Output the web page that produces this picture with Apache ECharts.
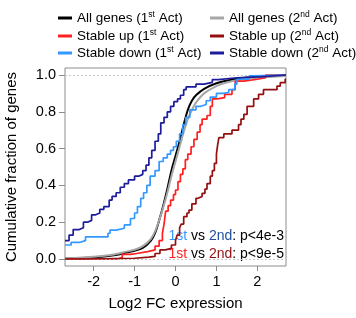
<!DOCTYPE html>
<html>
<head>
<meta charset="utf-8">
<script src="https://cdn.jsdelivr.net/npm/echarts@6/dist/echarts.min.js"></script>
<style>
  html, body { margin: 0; padding: 0; background: #fff; }
  #chart { width: 356px; height: 318px; }
</style>
</head>
<body>
<div id="chart"></div>
<script>
// data: x = log2 FC, y = cumulative fraction
var allGenes1X = [-2.7, -2.0, -1.5, -1.2, -1.0, -0.8, -0.6, -0.5, -0.4, -0.3, -0.2, -0.1, 0, 0.1, 0.2, 0.3, 0.4, 0.5, 0.7, 1.0, 1.3, 1.6, 2.0, 2.7];
var allGenes1Y = [0.002, 0.008, 0.02, 0.035, 0.045, 0.06, 0.1, 0.14, 0.21, 0.29, 0.38, 0.48, 0.56, 0.64, 0.73, 0.81, 0.86, 0.89, 0.925, 0.955, 0.972, 0.982, 0.99, 0.997];
var allGenes2X = [-2.7, -2.0, -1.5, -1.2, -1.0, -0.8, -0.6, -0.5, -0.4, -0.3, -0.2, -0.1, 0, 0.1, 0.2, 0.3, 0.4, 0.5, 0.7, 1.0, 1.3, 1.6, 2.0, 2.7];
var allGenes2Y = [0.003, 0.012, 0.025, 0.04, 0.05, 0.07, 0.11, 0.15, 0.21, 0.28, 0.36, 0.45, 0.53, 0.61, 0.69, 0.76, 0.81, 0.85, 0.9, 0.94, 0.962, 0.975, 0.985, 0.995];

var up1X = [-2.7, -1.4, -1.3, -1.1, -0.95, -0.68, -0.5, -0.4, -0.32, -0.28, -0.24, -0.18, -0.12, -0.05, 0, 0.06, 0.12, 0.18, 0.24, 0.3, 0.38, 0.45, 0.53, 0.6, 0.65, 0.77, 0.85, 0.9, 1.02, 1.2, 1.38, 1.46, 1.67, 2.0, 2.2, 2.7];
var up1Y = [0, 0.01, 0.025, 0.03, 0.04, 0.05, 0.07, 0.1, 0.14, 0.19, 0.26, 0.29, 0.32, 0.35, 0.375, 0.42, 0.46, 0.49, 0.54, 0.57, 0.61, 0.65, 0.69, 0.73, 0.76, 0.78, 0.83, 0.87, 0.877, 0.895, 0.92, 0.967, 0.977, 0.985, 1, 1];
var up2X = [-2.7, -2.3, -1.0, -0.65, -0.5, -0.38, -0.25, -0.1, 0, 0.04, 0.1, 0.14, 0.2, 0.28, 0.33, 0.4, 0.5, 0.55, 0.65, 0.72, 0.77, 0.85, 0.9, 0.95, 1.0, 1.03, 1.06, 1.18, 1.38, 1.54, 1.6, 1.67, 1.75, 1.91, 2.03, 2.15, 2.48, 2.56, 2.68, 2.7];
var up2Y = [0, 0.004, 0.01, 0.014, 0.03, 0.05, 0.058, 0.076, 0.1, 0.13, 0.17, 0.19, 0.23, 0.25, 0.266, 0.3, 0.33, 0.34, 0.357, 0.38, 0.41, 0.45, 0.48, 0.52, 0.57, 0.62, 0.66, 0.68, 0.7, 0.73, 0.76, 0.786, 0.83, 0.87, 0.895, 0.92, 0.94, 0.958, 0.977, 0.977];

var down1X = [-2.7, -2.55, -2.35, -2.2, -1.65, -1.6, -1.45, -1.25, -1.1, -1.0, -0.93, -0.85, -0.78, -0.7, -0.62, -0.5, -0.4, -0.3, -0.2, -0.12, -0.05, 0.02, 0.1, 0.18, 0.25, 0.35, 0.5, 0.62, 0.75, 0.85, 1.0, 1.15, 1.3, 1.45, 1.5, 1.8, 1.9, 2.7];
var down1Y = [0.076, 0.09, 0.1, 0.12, 0.14, 0.157, 0.167, 0.185, 0.22, 0.25, 0.285, 0.33, 0.36, 0.4, 0.45, 0.48, 0.53, 0.55, 0.57, 0.59, 0.61, 0.64, 0.68, 0.73, 0.77, 0.81, 0.83, 0.84, 0.86, 0.88, 0.9, 0.905, 0.92, 0.95, 0.977, 0.995, 1, 1];
var down2X = [-2.7, -2.6, -2.5, -2.35, -2.25, -2.15, -2.05, -1.95, -1.85, -1.75, -1.62, -1.55, -1.45, -1.35, -1.25, -1.15, -1.0, -0.9, -0.8, -0.72, -0.65, -0.58, -0.5, -0.42, -0.36, -0.28, -0.2, -0.12, -0.04, 0.05, 0.12, 0.2, 0.26, 0.5, 0.7, 0.9, 1.05, 1.5, 2.05, 2.7];
var down2Y = [0.1, 0.13, 0.16, 0.17, 0.2, 0.21, 0.24, 0.25, 0.27, 0.285, 0.32, 0.34, 0.36, 0.39, 0.41, 0.43, 0.45, 0.46, 0.48, 0.51, 0.55, 0.59, 0.64, 0.68, 0.74, 0.77, 0.8, 0.83, 0.855, 0.87, 0.89, 0.92, 0.935, 0.95, 0.96, 0.975, 0.985, 0.99, 1, 1];

var xTicks = [-2, -1, 0, 1, 2];
var yTicks = [0, 0.2, 0.4, 0.6, 0.8, 1.0];

function pairs(xs, ys) {
  return xs.map(function (x, i) { return [x, ys[i]]; });
}

var FONT = 'Liberation Sans, Arial, sans-serif';

var curves = [
  { name: 'All genes (1st Act)', label: '{n|All genes (1}{s|st}{n| Act)}', xs: allGenes1X, ys: allGenes1Y, color: '#000000', step: false, left: 58, top: 10 },
  { name: 'All genes (2nd Act)', label: '{n|All genes (2}{s|nd}{n| Act)}', xs: allGenes2X, ys: allGenes2Y, color: '#a6a6a6', step: false, left: 210, top: 10 },
  { name: 'Stable up (1st Act)', label: '{n|Stable up (1}{s|st}{n| Act)}', xs: up1X, ys: up1Y, color: '#ff2020', step: 'end', left: 58, top: 28 },
  { name: 'Stable up (2nd Act)', label: '{n|Stable up (2}{s|nd}{n| Act)}', xs: up2X, ys: up2Y, color: '#940f0f', step: 'end', left: 210, top: 28 },
  { name: 'Stable down (1st Act)', label: '{n|Stable down (1}{s|st}{n| Act)}', xs: down1X, ys: down1Y, color: '#3399ff', step: 'end', left: 58, top: 45 },
  { name: 'Stable down (2nd Act)', label: '{n|Stable down (2}{s|nd}{n| Act)}', xs: down2X, ys: down2Y, color: '#1c1c9c', step: 'end', left: 210, top: 45 }
];

var richText = {
  n: { fontSize: 13.5, color: '#000', fontFamily: FONT },
  s: { fontSize: 8.5, color: '#000', fontFamily: FONT, padding: [0, 0, 7, 0] }
};

var legends = curves.map(function (c) {
  return {
    data: [c.name],
    left: c.left,
    top: c.top,
    icon: 'rect',
    itemWidth: 14,
    itemHeight: 3,
    selectedMode: false,
    padding: 0,
    formatter: function () { return c.label; },
    textStyle: { rich: richText }
  };
});

var series = curves.map(function (c, i) {
  var s = {
    name: c.name,
    type: 'line',
    data: pairs(c.xs, c.ys),
    step: c.step,
    smooth: c.step ? false : 0.3,
    showSymbol: false,
    symbol: 'none',
    silent: true,
    z: 2 + i,
    lineStyle: { color: c.color, width: c.step ? 1.7 : 2 },
    itemStyle: { color: c.color }
  };
  if (i === 0) {
    s.markLine = {
      silent: true,
      symbol: 'none',
      label: { show: false },
      lineStyle: { color: '#c8c8c8', type: [2, 2], width: 1 },
      data: [{ yAxis: 0 }, { yAxis: 1 }]
    };
  }
  return s;
});

var chart = echarts.init(document.getElementById('chart'));
chart.setOption({
  animation: false,
  backgroundColor: '#fff',
  legend: legends,
  grid: {
    left: 65, right: 70, top: 68, bottom: 52,
    outerBoundsMode: 'none',
    containLabel: false,
    show: true, borderColor: '#8c8c8c', borderWidth: 1, backgroundColor: 'transparent'
  },
  xAxis: {
    type: 'value',
    min: -2.7, max: 2.7,
    name: 'Log2 FC expression',
    nameLocation: 'middle',
    nameGap: 30,
    nameTextStyle: { fontSize: 15, color: '#000', fontFamily: FONT },
    axisLine: { show: false, onZero: false },
    splitLine: { show: false },
    axisTick: { show: true, length: 5, customValues: xTicks, lineStyle: { color: '#8c8c8c' } },
    axisLabel: { customValues: xTicks, fontSize: 14.5, color: '#000', fontFamily: FONT, margin: 8 }
  },
  yAxis: {
    type: 'value',
    min: -0.038, max: 1.038,
    name: 'Cumulative fraction of genes',
    nameLocation: 'middle',
    nameGap: 46,
    nameTextStyle: { fontSize: 15, color: '#000', fontFamily: FONT },
    axisLine: { show: false, onZero: false },
    splitLine: { show: false },
    axisTick: { show: true, length: 6, customValues: yTicks, lineStyle: { color: '#8c8c8c' } },
    axisLabel: {
      customValues: yTicks, fontSize: 14.5, color: '#000', fontFamily: FONT, margin: 9,
      formatter: function (v) { return v.toFixed(1); }
    }
  },
  graphic: [
    {
      type: 'text', right: 72, top: 229,
      style: {
        text: '{a|1st}{k| vs }{b|2nd}{k|: p<4e-3}',
        rich: {
          a: { fill: '#3399ff', fontSize: 14, fontFamily: FONT },
          b: { fill: '#1f4f9e', fontSize: 14, fontFamily: FONT },
          k: { fill: '#000', fontSize: 14, fontFamily: FONT }
        }
      }
    },
    {
      type: 'text', right: 72, top: 247,
      style: {
        text: '{a|1st}{k| vs }{b|2nd}{k|: p<9e-5}',
        rich: {
          a: { fill: '#ff2020', fontSize: 14, fontFamily: FONT },
          b: { fill: '#940f0f', fontSize: 14, fontFamily: FONT },
          k: { fill: '#000', fontSize: 14, fontFamily: FONT }
        }
      }
    }
  ],
  series: series
});
</script>
</body>
</html>
